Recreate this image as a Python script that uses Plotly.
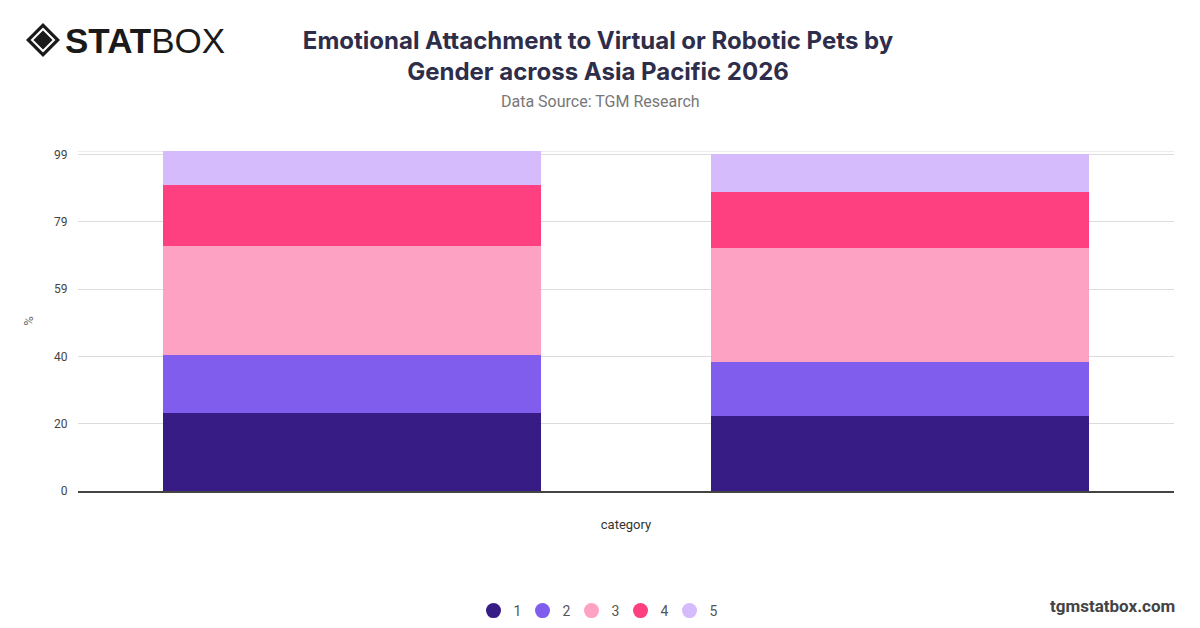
import plotly.graph_objects as go

# data
categories = ["A", "B"]
series_names = ["1", "2", "3", "4", "5"]
series_values = [
    [23, 22],
    [17, 16],
    [32, 33.5],
    [18, 16.5],
    [10, 11],
]
colors = ["#371c85", "#805ded", "#fda2c3", "#fe3f80", "#d5bafc"]
tick_vals = [0, 19.8, 39.6, 59.4, 79.2, 99]
tick_text = ["0", "20", "40", "59", "79", "99"]

# page offset (body margin) and plot area, in screenshot pixels
OFF = 8
L, R, T, B = 78, 1174, 151, 491


def px(x):
    return (x - L) / (R - L)


def py(y):
    return (B - y) / (B - T)


fig = go.Figure()

for name, vals, color in zip(series_names, series_values, colors):
    fig.add_trace(go.Bar(
        x=categories, y=vals, name=name,
        marker=dict(color=color, line=dict(width=0)),
        showlegend=False, hoverinfo="y+name",
    ))
    # circle legend entries
    fig.add_trace(go.Scatter(
        x=[None], y=[None], mode="markers", name=name,
        marker=dict(color=color, size=15, symbol="circle"),
    ))

fig.update_layout(
    barmode="stack",
    bargap=0.31,
    width=1200, height=628,
    margin=dict(l=L - OFF, r=1200 - R + OFF, t=T - OFF, b=628 - B + OFF, autoexpand=False),
    paper_bgcolor="white",
    plot_bgcolor="white",
    font=dict(family="Roboto, Arial, sans-serif", color="#555"),
    title=dict(
        text="<b>Emotional Attachment to Virtual or Robotic Pets by<br>Gender across Asia Pacific 2026</b>",
        x=(598 - OFF) / 1200, xref="container", xanchor="center",
        y=1 - 41 / 628, yref="container", yanchor="middle",
        font=dict(family="Inter, Roboto, sans-serif", size=24, color="#2e2d4a"),
    ),
    legend=dict(
        orientation="h", x=px(596), xanchor="center", y=py(611), yanchor="middle",
        font=dict(size=14, color="#555"), itemwidth=30, traceorder="normal",
        entrywidth=4, entrywidthmode="pixels",
    ),
    xaxis=dict(
        showticklabels=False, showgrid=False, zeroline=False, automargin=False,
        title=dict(text="category", font=dict(size=13, color="#333"), standoff=28),
        showline=True, linecolor="#444", linewidth=1.5,
    ),
    yaxis=dict(
        range=[0, 100], tickvals=tick_vals, ticktext=tick_text, automargin=False,
        showgrid=True, gridcolor="#dcdcdc", gridwidth=1, zeroline=False,
        tickfont=dict(size=12, color="#444"),
        title=dict(text="%", font=dict(size=13, color="#666"), standoff=17),
        ticks="outside", ticklen=7, tickcolor="rgba(0,0,0,0)",
    ),
)

# top edge line at 100
fig.add_shape(type="line", xref="paper", yref="y", x0=0, x1=1, y0=100, y1=100,
              line=dict(color="#dcdcdc", width=1), layer="below")

# subtitle
fig.add_annotation(text="Data Source: TGM Research", xref="paper", yref="paper",
                   x=px(600), y=py(101), yanchor="middle", showarrow=False,
                   font=dict(size=16, color="#777"))

# footer
fig.add_annotation(text="<b>tgmstatbox.com</b>", xref="paper", yref="paper",
                   x=px(1177), y=py(606), xanchor="right", yanchor="middle", showarrow=False,
                   font=dict(size=17, color="#444"))

# logo: diamond icon and wordmark
cx, cy, r = 43, 40, 17
fig.add_shape(type="path", xref="paper", yref="paper",
              path=f"M {px(cx-r)} {py(cy)} L {px(cx)} {py(cy-r)} L {px(cx+r)} {py(cy)} L {px(cx)} {py(cy+r)} Z",
              fillcolor="#1a1a1a", line=dict(width=0))
r2 = 11
fig.add_shape(type="path", xref="paper", yref="paper",
              path=f"M {px(cx-r2)} {py(cy)} L {px(cx)} {py(cy-r2)} L {px(cx+r2)} {py(cy)} L {px(cx)} {py(cy+r2)} Z",
              fillcolor="#1a1a1a", line=dict(color="white", width=2))
fig.add_annotation(text="<b>STAT</b>BOX", xref="paper", yref="paper",
                   x=px(63), y=py(40), xanchor="left", yanchor="middle", showarrow=False,
                   font=dict(family="Liberation Sans, Arial, sans-serif", size=35, color="#1a1a1a"))

fig.write_html("out.html")
